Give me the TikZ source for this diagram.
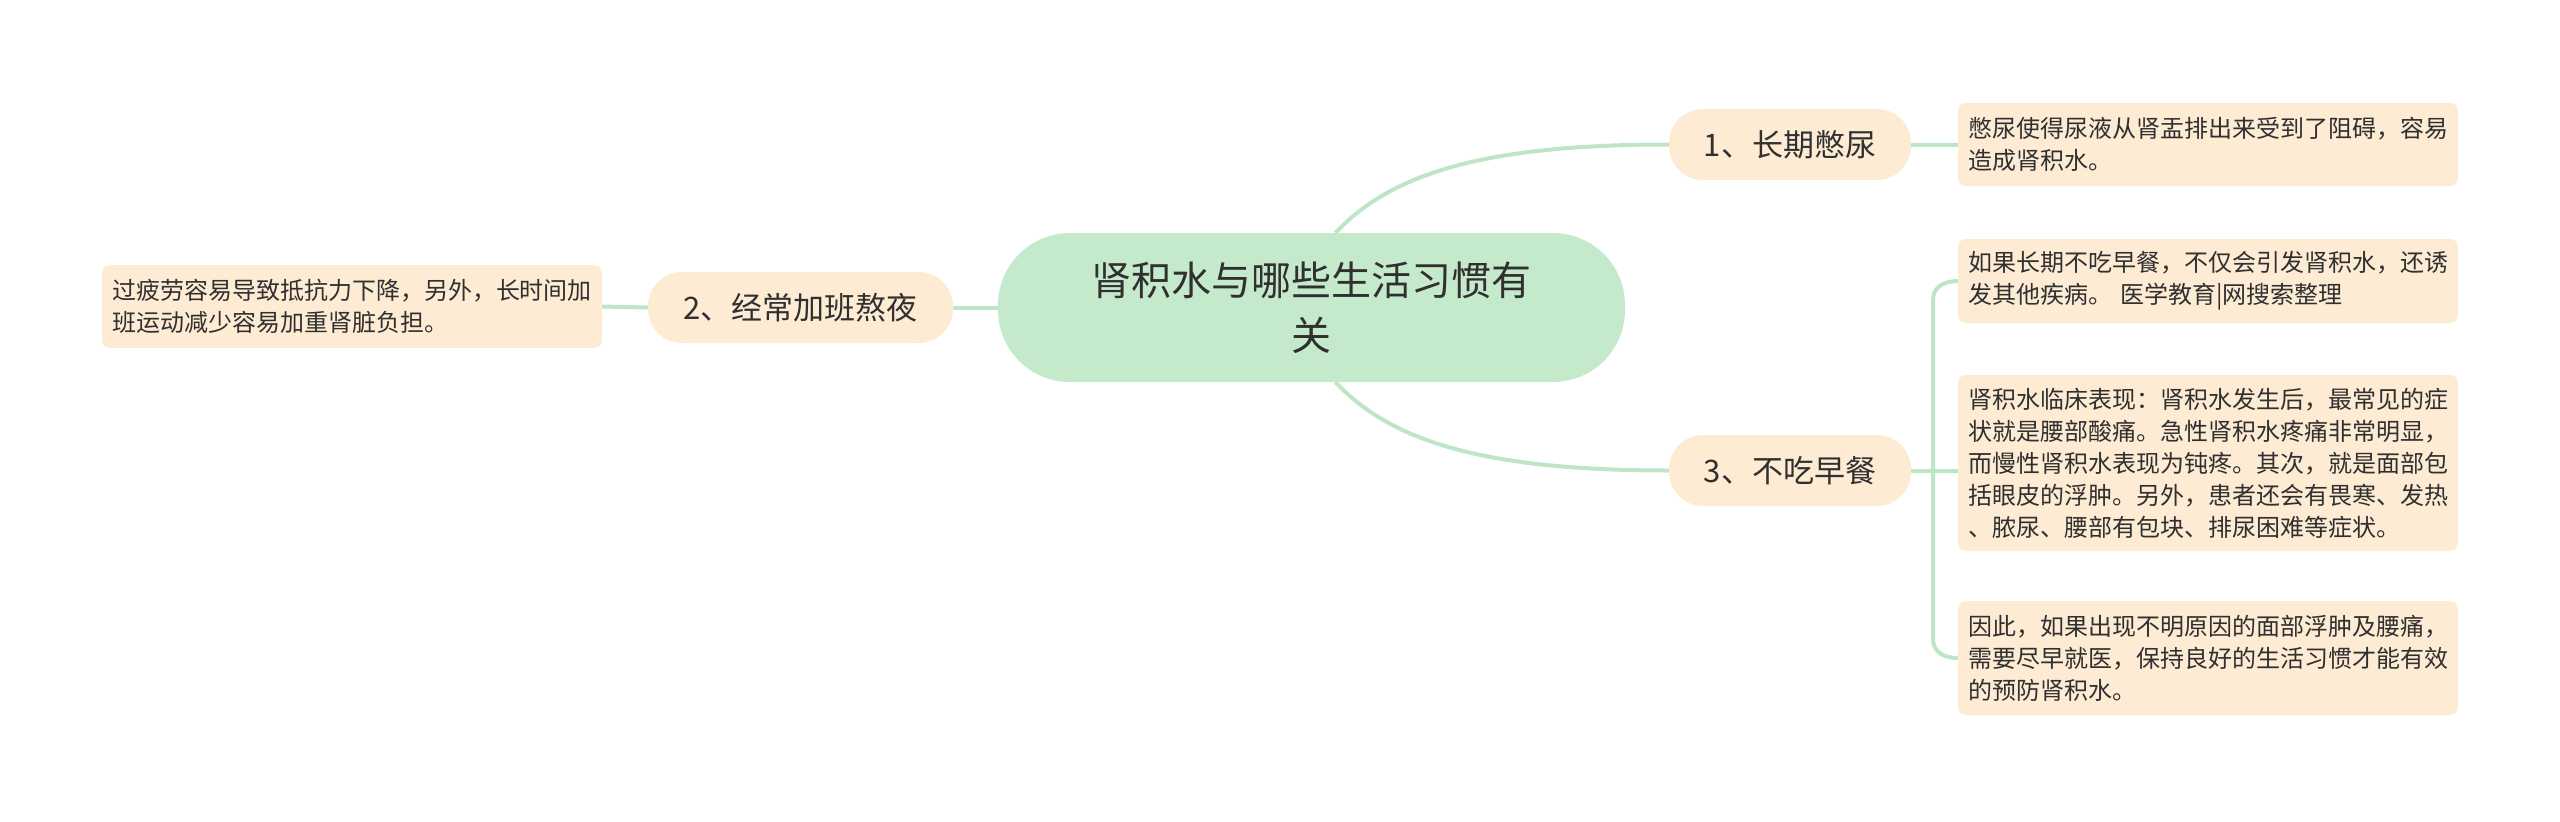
\documentclass[tikz,border=0pt]{standalone}
\usepackage{fontspec}
\setmainfont{Noto Sans CJK SC}
\usetikzlibrary{backgrounds,calc}
\definecolor{centerfill}{HTML}{C5EACB}
\definecolor{beige}{HTML}{FDEBD4}
\definecolor{linkcol}{HTML}{BFE5C7}
\definecolor{txt}{HTML}{303030}
\tikzset{
  centerbox/.style={fill=centerfill, rounded corners=72pt, minimum width=627pt, minimum height=149pt, align=center, text=txt, font=\fontsize{40}{55}\selectfont, inner sep=0pt},
  branchbox/.style={fill=beige, rounded corners=34pt, minimum height=71pt, align=center, text=txt, font=\fontsize{31}{38}\selectfont, inner sep=0pt},
  leafbox/.style={fill=beige, rounded corners=8pt, text width=480pt, minimum width=500pt, inner xsep=10pt, inner ysep=0pt, align=left, text=txt, font=\fontsize{24}{32}\selectfont},
  link/.style={draw=linkcol, line width=4pt}
}
\begin{document}
\begin{tikzpicture}[x=1pt,y=-1pt]
\useasboundingbox (0,0) rectangle (2560,822);
\node[centerbox] (c) at (1311.5,307.5) {肾积水与哪些生活习惯有\\关};
\node[branchbox, minimum width=242pt] (n1) at (1790,144.5) {1、长期憋尿};
\node[branchbox, minimum width=305pt] (n2) at (800.5,307.5) {2、经常加班熬夜};
\node[branchbox, minimum width=242pt] (n3) at (1790,470.5) {3、不吃早餐};
\node[leafbox, minimum height=83pt] (l1) at (2208,144.5) {憋尿使得尿液从肾盂排出来受到了阻碍，容易\\造成肾积水。};
\node[leafbox, minimum height=83pt] (l2) at (352,306.5) {过疲劳容易导致抵抗力下降，另外，长时间加\\班运动减少容易加重肾脏负担。};
\node[leafbox, minimum height=84pt] (l3a) at (2208,281) {如果长期不吃早餐，不仅会引发肾积水，还诱\\发其他疾病。 医学教育|网搜索整理};
\node[leafbox, minimum height=176pt] (l3b) at (2208,463) {肾积水临床表现：肾积水发生后，最常见的症\\状就是腰部酸痛。急性肾积水疼痛非常明显，\\而慢性肾积水表现为钝疼。其次，就是面部包\\括眼皮的浮肿。另外，患者还会有畏寒、发热\\、脓尿、腰部有包块、排尿困难等症状。};
\node[leafbox, minimum height=114pt] (l3c) at (2208,658) {因此，如果出现不明原因的面部浮肿及腰痛，\\需要尽早就医，保持良好的生活习惯才能有效\\的预防肾积水。};
\coordinate (j) at (1933,470.5);
\begin{scope}[on background layer]
\draw[link] (c) -- (n2);
\draw[link] ($(c.north)+(24,0)$) .. controls (1390,175) and (1480,144.5) .. (n1.west);
\draw[link] ($(c.south)+(24,0)$) .. controls (1390,440) and (1480,470.5) .. (n3.west);
\draw[link] (n1.east) -- (l1.west);
\draw[link] (n2.west) -- (l2.east);
\draw[link] (n3.east) -- (j) -- (l3b.west |- j);
\draw[link] (j) -- (1933,300) .. controls (1933,287) and (1944,281) .. (l3a.west);
\draw[link] (j) -- (1933,639) .. controls (1933,652) and (1944,658) .. (l3c.west);
\end{scope}
\end{tikzpicture}
\end{document}
